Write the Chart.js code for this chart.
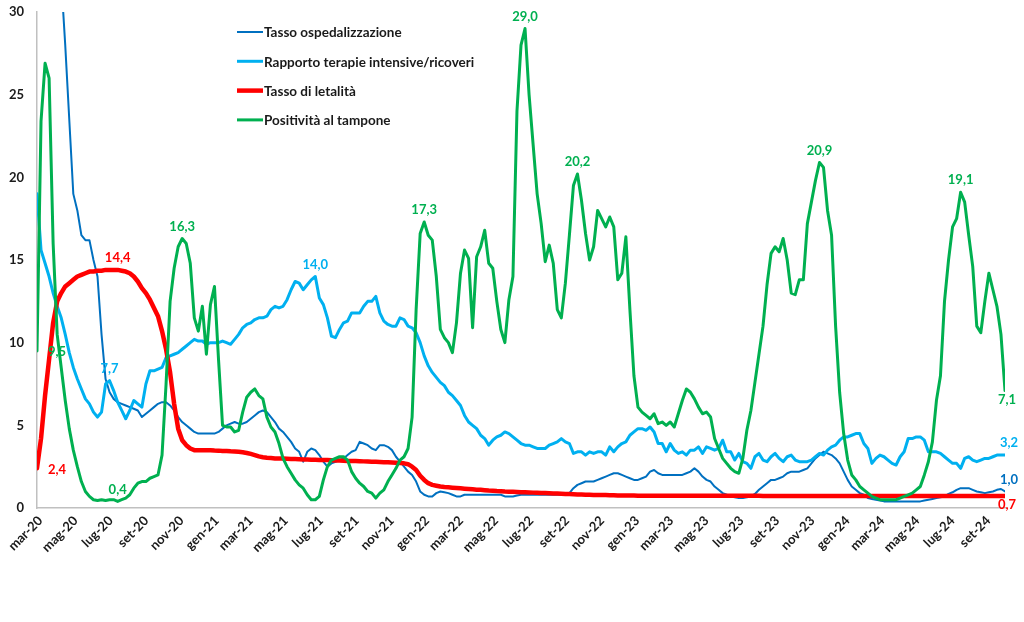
<!DOCTYPE html>
<html>
<head>
<meta charset="utf-8">
<script src="https://cdn.jsdelivr.net/npm/chart.js@4.4.1/dist/chart.umd.min.js"></script>
<style>
  html, body { margin: 0; padding: 0; background: #ffffff; }
</style>
</head>
<body>
<canvas id="chart0" width="1024" height="622"></canvas>
<script>
// one value per week, week 0 = 24 feb 2020
const startDate = new Date(2020, 1, 24);

// x axis tick labels (every two months)
const monthLabels = ['mar-20','mag-20','lug-20','set-20','nov-20','gen-21','mar-21','mag-21','lug-21','set-21',
                     'nov-21','gen-22','mar-22','mag-22','lug-22','set-22','nov-22','gen-23','mar-23','mag-23',
                     'lug-23','set-23','nov-23','gen-24','mar-24','mag-24','lug-24','set-24'];

const seriesNames = ['Tasso ospedalizzazione', 'Rapporto terapie intensive/ricoveri', 'Tasso di letalità', 'Positività al tampone'];

const ospedalizzazione = [
  55, 50, 46, 42, 38, 35, 32, 28.0, 23.5, 19.0,
  18.0, 16.5, 16.2, 16.2, 15.0, 14.0, 10.5, 7.8, 7.0, 6.6,
  6.4, 6.3, 6.2, 6.1, 6.0, 5.9, 5.5, 5.7, 5.9, 6.1,
  6.3, 6.4, 6.4, 6.2, 5.9, 5.5, 5.2, 5.0, 4.8, 4.6,
  4.5, 4.5, 4.5, 4.5, 4.5, 4.6, 4.8, 5.0, 5.1, 5.2,
  5.1, 5.1, 5.2, 5.4, 5.6, 5.8, 5.9, 5.8, 5.5, 5.2,
  4.8, 4.6, 4.3, 4.0, 3.6, 3.4, 2.8, 3.4, 3.6, 3.5,
  3.2, 2.8, 2.5, 2.7, 2.8, 2.9, 3.0, 3.2, 3.4, 3.5,
  4.0, 3.9, 3.8, 3.6, 3.5, 3.8, 3.8, 3.7, 3.5, 3.1,
  2.8, 2.5, 2.2, 2.0, 1.6, 1.0, 0.8, 0.7, 0.7, 0.9,
  1.0, 0.95, 0.9, 0.8, 0.7, 0.7, 0.8, 0.8, 0.8, 0.8,
  0.8, 0.8, 0.8, 0.8, 0.8, 0.8, 0.7, 0.7, 0.7, 0.75,
  0.8, 0.8, 0.8, 0.8, 0.8, 0.8, 0.8, 0.8, 0.8, 0.8,
  0.8, 0.8, 0.9, 1.2, 1.4, 1.5, 1.6, 1.6, 1.6, 1.7,
  1.8, 1.9, 2.0, 2.1, 2.1, 2.0, 1.9, 1.8, 1.7, 1.7,
  1.8, 1.9, 2.2, 2.3, 2.1, 2.0, 2.0, 2.0, 2.0, 2.0,
  2.0, 2.1, 2.2, 2.4, 2.2, 1.9, 1.7, 1.6, 1.3, 1.1,
  0.9, 0.8, 0.7, 0.65, 0.6, 0.6, 0.65, 0.7, 0.85, 1.1,
  1.3, 1.5, 1.7, 1.7, 1.8, 1.9, 2.1, 2.2, 2.2, 2.2,
  2.3, 2.4, 2.7, 3.0, 3.2, 3.4, 3.3, 3.2, 3.0, 2.7,
  2.2, 1.7, 1.3, 1.1, 0.9, 0.8, 0.6, 0.55, 0.5, 0.45,
  0.4, 0.4, 0.4, 0.4, 0.4, 0.4, 0.4, 0.4, 0.4, 0.4,
  0.45, 0.5, 0.55, 0.6, 0.65, 0.7, 0.85, 0.95, 1.1, 1.2,
  1.2, 1.2, 1.1, 1.0, 0.95, 0.9, 0.95, 1.0, 1.1, 1.15,
  1.0
];

const terapieIntensive = [
  19.0, 15.6, 14.8, 14.0, 13.0, 12.2, 11.5, 10.5, 9.4, 8.5,
  7.8, 7.2, 6.6, 6.3, 5.8, 5.5, 5.8, 7.5, 7.7, 7.1,
  6.4, 5.9, 5.4, 5.9, 6.5, 6.3, 6.1, 7.5, 8.3, 8.3,
  8.4, 8.5, 9.1, 9.2, 9.3, 9.4, 9.6, 9.8, 10.0, 10.2,
  10.1, 10.1, 9.9, 10.0, 10.0, 10.0, 10.1, 10.0, 9.9, 10.2,
  10.5, 10.9, 11.1, 11.2, 11.4, 11.5, 11.5, 11.6, 12.0, 12.2,
  12.1, 12.2, 12.6, 13.2, 13.7, 13.6, 13.2, 13.5, 13.8, 14.0,
  12.7, 12.3, 11.5, 10.4, 10.3, 10.8, 11.2, 11.3, 11.8, 11.8,
  11.8, 12.2, 12.5, 12.5, 12.8, 11.8, 11.3, 11.1, 11.0, 11.0,
  11.5, 11.4, 11.0, 10.9, 10.6, 10.0, 9.2, 8.6, 8.2, 7.9,
  7.6, 7.4, 7.0, 6.8, 6.5, 6.2, 5.6, 5.2, 5.0, 4.8,
  4.4, 4.2, 3.8, 4.1, 4.3, 4.4, 4.6, 4.5, 4.3, 4.1,
  3.9, 3.8, 3.8, 3.7, 3.6, 3.6, 3.6, 3.8, 3.9, 4.0,
  4.2, 4.0, 3.9, 3.3, 3.4, 3.4, 3.2, 3.4, 3.3, 3.4,
  3.4, 3.2, 3.7, 3.4, 3.7, 3.9, 4.0, 4.4, 4.6, 4.8,
  4.8, 4.7, 4.9, 4.6, 3.9, 3.9, 3.4, 3.9, 3.5, 3.3,
  3.4, 3.2, 3.5, 3.5, 3.7, 3.3, 3.7, 3.6, 3.5, 3.6,
  4.1, 3.4, 3.4, 2.9, 3.3, 2.8, 2.7, 2.4, 3.1, 3.3,
  2.9, 2.8, 3.1, 3.3, 3.0, 2.8, 3.1, 3.2, 2.9, 2.8,
  2.8, 2.8, 2.9, 3.1, 3.3, 3.2, 3.5, 3.7, 3.8, 4.1,
  4.3, 4.3, 4.4, 4.5, 4.5, 3.9, 3.6, 2.7, 3.0, 3.2,
  3.1, 2.9, 2.7, 2.6, 3.1, 3.4, 4.2, 4.2, 4.3, 4.3,
  4.1, 3.4, 3.4, 3.4, 3.3, 3.1, 2.9, 2.7, 2.7, 2.4,
  3.0, 3.1, 2.9, 2.8, 2.9, 3.0, 3.0, 3.1, 3.2, 3.2,
  3.2
];

const letalita = [
  2.4, 4.2, 6.8, 9.0, 11.2, 12.5, 13.0, 13.4, 13.6, 13.8,
  14.0, 14.1, 14.2, 14.3, 14.3, 14.35, 14.35, 14.4, 14.4, 14.4,
  14.4, 14.35, 14.3, 14.2, 14.0, 13.7, 13.3, 13.0, 12.6, 12.1,
  11.6, 10.7, 9.6, 8.2, 6.3, 4.8, 4.1, 3.8, 3.6, 3.5,
  3.5, 3.5, 3.5, 3.5, 3.48, 3.47, 3.45, 3.45, 3.43, 3.42,
  3.4, 3.37, 3.33, 3.27, 3.2, 3.12, 3.07, 3.04, 3.02, 3.0,
  3.0, 2.99, 2.98, 2.97, 2.96, 2.95, 2.94, 2.93, 2.92, 2.92,
  2.91, 2.9, 2.9, 2.89, 2.88, 2.87, 2.86, 2.85, 2.85, 2.84,
  2.83, 2.82, 2.81, 2.8, 2.79, 2.78, 2.77, 2.76, 2.75, 2.74,
  2.72, 2.7, 2.65, 2.5, 2.3, 1.95, 1.7, 1.5, 1.4, 1.35,
  1.3, 1.27, 1.25, 1.23, 1.21, 1.19, 1.17, 1.15, 1.13, 1.11,
  1.1, 1.08, 1.06, 1.05, 1.03, 1.02, 1.0, 0.99, 0.98, 0.97,
  0.96, 0.95, 0.94, 0.93, 0.92, 0.91, 0.9, 0.89, 0.88, 0.87,
  0.86, 0.85, 0.84, 0.83, 0.82, 0.81, 0.8, 0.8, 0.79, 0.79,
  0.78, 0.78, 0.77, 0.77, 0.76, 0.76, 0.75, 0.75, 0.75, 0.74,
  0.74, 0.74, 0.74, 0.74, 0.74, 0.74, 0.74, 0.74, 0.74, 0.74,
  0.74, 0.74, 0.74, 0.74, 0.74, 0.74, 0.74, 0.74, 0.74, 0.74,
  0.74, 0.74, 0.74, 0.74, 0.74, 0.74, 0.74, 0.74, 0.74, 0.74,
  0.73, 0.73, 0.73, 0.73, 0.73, 0.73, 0.73, 0.73, 0.73, 0.73,
  0.73, 0.73, 0.73, 0.73, 0.73, 0.73, 0.73, 0.73, 0.73, 0.73,
  0.73, 0.73, 0.73, 0.73, 0.73, 0.73, 0.73, 0.73, 0.73, 0.73,
  0.73, 0.73, 0.73, 0.73, 0.73, 0.73, 0.73, 0.73, 0.73, 0.73,
  0.73, 0.73, 0.73, 0.73, 0.73, 0.73, 0.73, 0.73, 0.73, 0.73,
  0.73, 0.73, 0.73, 0.73, 0.73, 0.73, 0.73, 0.73, 0.73, 0.73,
  0.72
];

const positivita = [
  9.5, 23.4, 26.9, 26.0, 16.0, 10.5, 8.5, 6.5, 4.8, 3.5,
  2.5, 1.6, 1.0, 0.7, 0.5, 0.45, 0.5, 0.45, 0.5, 0.5,
  0.4, 0.5, 0.6, 0.8, 1.2, 1.5, 1.6, 1.6, 1.8, 1.9,
  2.0, 3.2, 7.5, 12.5, 14.5, 15.8, 16.3, 16.0, 14.8, 11.5,
  10.7, 12.2, 9.3, 12.3, 13.4, 9.0, 5.0, 4.9, 4.9, 4.6,
  4.7, 5.8, 6.7, 7.0, 7.2, 6.8, 6.6, 5.5, 4.9, 4.6,
  3.9, 3.0, 2.5, 2.1, 1.7, 1.4, 1.2, 0.8, 0.5, 0.5,
  0.7, 1.7, 2.5, 2.9, 3.0, 3.1, 3.1, 2.9, 2.2, 1.8,
  1.5, 1.3, 1.0, 0.9, 0.6, 0.9, 1.1, 1.6, 2.0, 2.4,
  2.9, 3.1, 3.6, 5.5, 12.0, 16.6, 17.3, 16.5, 16.2, 14.0,
  10.8, 10.3, 10.0, 9.4, 11.2, 14.2, 15.6, 15.1, 10.9, 15.2,
  15.8, 16.8, 14.8, 14.5, 12.5, 10.8, 10.0, 12.6, 14.0, 24.0,
  28.0, 29.0, 25.0, 22.0, 19.0, 17.2, 14.9, 15.9, 14.8, 12.0,
  11.5, 13.6, 16.5, 19.5, 20.2, 18.6, 16.6, 15.0, 15.8, 18.0,
  17.5, 17.0, 17.6, 17.0, 13.8, 14.2, 16.4, 12.0, 8.0, 6.1,
  5.8, 5.6, 5.4, 5.7, 5.1, 5.2, 5.0, 5.2, 4.9, 5.7,
  6.5, 7.2, 7.0, 6.6, 6.1, 5.7, 5.8, 5.5, 4.2, 3.6,
  3.0, 2.7, 2.4, 2.2, 2.1, 3.0, 4.7, 5.9, 7.6, 9.3,
  11.0, 13.5, 15.4, 15.8, 15.5, 16.3, 15.0, 13.0, 12.9, 13.8,
  13.8, 17.2, 18.5, 19.8, 20.9, 20.6, 18.0, 16.5, 11.0, 7.0,
  4.5, 2.9, 2.0, 1.7, 1.3, 1.1, 0.9, 0.7, 0.6, 0.5,
  0.5, 0.5, 0.5, 0.5, 0.6, 0.7, 0.8, 0.9, 1.1, 1.3,
  2.0, 2.8, 4.0, 6.5, 8.0, 12.5, 15.0, 17.0, 17.5, 19.1,
  18.5, 16.5, 14.6, 11.0, 10.6, 12.5, 14.2, 13.2, 12.2, 10.5,
  7.1
];

// which points carry a value label
const ospedalizzazioneLabels = [[240, 'endAbove']];
const terapieLabels = [[18, 'above'], [69, 'above'], [240, 'endAbove']];
const letalitaLabels = [[0, 'right'], [20, 'above'], [240, 'endBelow']];
const positivitaLabels = [[0, 'right'], [20, 'above'], [36, 'above'], [96, 'above'], [121, 'above'],
                          [134, 'above'], [194, 'above'], [229, 'above'], [240, 'endBelow']];

const FONT = 'Lato, "Open Sans", sans-serif';
const textColor = '#1a1a1a';

const monthIdx = {gen:0, feb:1, mar:2, apr:3, mag:4, giu:5, lug:6, ago:7, set:8, ott:9, nov:10, dic:11};
// week position of the 1st day of each labelled month
const tickWeeks = monthLabels.map(function(l) {
  const p = l.split('-');
  const d = new Date(2000 + parseInt(p[1], 10), monthIdx[p[0]], 1);
  return (d - startDate) / (7 * 86400000);
});

function toPoints(arr) {
  return arr.map(function(v, i) { return {x: i, y: v}; });
}

function makeSet(label, values, color, width, order, valueLabels) {
  return {
    label: label,
    data: toPoints(values),
    borderColor: color,
    backgroundColor: color,
    borderWidth: width,
    pointRadius: 0,
    pointHoverRadius: 0,
    tension: 0,
    borderJoinStyle: 'round',
    borderCapStyle: 'round',
    fill: false,
    order: order,
    valueLabels: valueLabels
  };
}

const labelOffsets = {
  above:    {dx: 0,  dy: -12, align: 'center'},
  below:    {dx: 0,  dy: 11,  align: 'center'},
  right:    {dx: 11, dy: 1,   align: 'left'},
  endAbove: {dx: 4,  dy: -12, align: 'center'},
  endBelow: {dx: 2,  dy: 9,   align: 'center'}
};

// data labels like excel
const valueLabelPlugin = {
  id: 'valueLabels',
  afterDatasetsDraw(chart) {
    const ctx = chart.ctx;
    ctx.save();
    ctx.font = 'bold 13px ' + FONT;
    ctx.textBaseline = 'middle';
    chart.data.datasets.forEach(function(ds, i) {
      const meta = chart.getDatasetMeta(i);
      (ds.valueLabels || []).forEach(function(lb) {
        const pt = meta.data[lb[0]];
        const off = labelOffsets[lb[1]];
        const txt = ds.data[lb[0]].y.toFixed(1).replace('.', ',');
        ctx.fillStyle = ds.borderColor;
        ctx.textAlign = off.align;
        ctx.fillText(txt, pt.x + off.dx, pt.y + off.dy);
      });
    });
    ctx.restore();
  }
};

// legend drawn inside the plot area
const innerLegendPlugin = {
  id: 'innerLegend',
  afterDraw(chart) {
    const ctx = chart.ctx;
    const area = chart.chartArea;
    const x0 = area.left + 200;
    ctx.save();
    ctx.font = 'bold 13.5px ' + FONT;
    ctx.textBaseline = 'middle';
    ctx.textAlign = 'left';
    chart.data.datasets.forEach(function(ds, i) {
      const y = area.top + 20 + i * 29.3;
      ctx.strokeStyle = ds.borderColor;
      ctx.lineWidth = ds.borderWidth;
      ctx.lineCap = 'butt';
      ctx.beginPath();
      ctx.moveTo(x0, y);
      ctx.lineTo(x0 + 26, y);
      ctx.stroke();
      ctx.fillStyle = textColor;
      ctx.fillText(ds.label, x0 + 27, y + 1);
    });
    ctx.restore();
  }
};

const ctx = document.getElementById('chart0').getContext('2d');
const myChart = new Chart(ctx, {
  type: 'line',
  data: {
    datasets: [
      makeSet(seriesNames[0], ospedalizzazione, '#0070C0', 2, 4, ospedalizzazioneLabels),
      makeSet(seriesNames[1], terapieIntensive, '#00B0F0', 3, 3, terapieLabels),
      makeSet(seriesNames[2], letalita, '#FF0000', 4.5, 2, letalitaLabels),
      makeSet(seriesNames[3], positivita, '#00B050', 3, 1, positivitaLabels)
    ]
  },
  options: {
    responsive: false,
    animation: false,
    layout: { padding: { top: 12, right: 19, left: 0, bottom: 0 } },
    plugins: {
      legend: { display: false },
      tooltip: { enabled: false }
    },
    scales: {
      x: {
        type: 'linear',
        min: 0,
        max: 240,
        grid: { display: false, drawTicks: false },
        border: { color: '#c0c0c0', width: 1.5 },
        afterBuildTicks: function(scale) {
          scale.ticks = tickWeeks.map(function(w) { return {value: w}; });
        },
        afterFit: function(scale) { scale.height = 114; },
        ticks: {
          autoSkip: false,
          maxRotation: 45,
          minRotation: 45,
          padding: 5,
          color: textColor,
          font: { family: FONT, weight: 'bold', size: 13 },
          callback: function(value, index) { return monthLabels[index]; }
        }
      },
      y: {
        min: 0,
        max: 30,
        grid: { display: false, drawTicks: false },
        border: { color: '#c0c0c0', width: 1.5 },
        afterFit: function(scale) {
          scale.width = 37;
          // the tick padding should not push the plot down
          scale.paddingTop = 8;
          scale.paddingBottom = 8;
        },
        ticks: {
          stepSize: 5,
          padding: 13,
          color: textColor,
          font: { family: FONT, weight: 'bold', size: 13 }
        }
      }
    }
  },
  plugins: [valueLabelPlugin, innerLegendPlugin]
});
</script>
</body>
</html>
